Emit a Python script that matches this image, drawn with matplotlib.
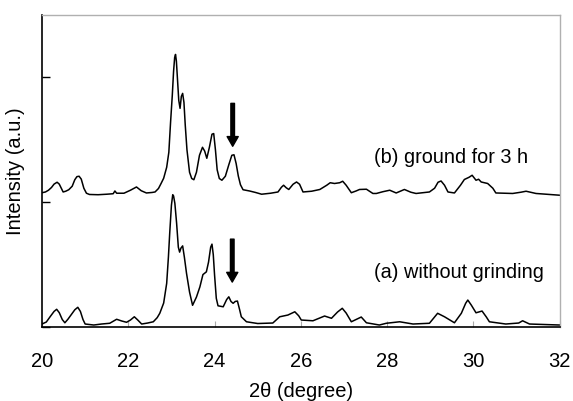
import matplotlib
matplotlib.use("Agg")
import matplotlib.pyplot as plt

plt.rcParams['font.family'] = ['Liberation Sans', 'DejaVu Sans']

# 2-theta (degree) and intensity (a.u.) for sample (b) ground for 3 h
two_theta_b = [20.00, 20.08, 20.15, 20.22, 20.28, 20.35, 20.40, 20.45, 20.49, 20.55,
               20.62, 20.70, 20.76, 20.81, 20.86, 20.91, 20.97, 21.03, 21.10, 21.30,
               21.50, 21.65, 21.69, 21.73, 21.90, 22.05, 22.19, 22.30, 22.42, 22.55,
               22.62, 22.70, 22.76, 22.82, 22.89, 22.94, 22.98, 23.02, 23.05, 23.075,
               23.095, 23.115, 23.14, 23.17, 23.20, 23.23, 23.26, 23.29, 23.32, 23.36,
               23.42, 23.47, 23.52, 23.58, 23.65, 23.72, 23.77, 23.82, 23.88, 23.94,
               23.98, 24.02, 24.06, 24.11, 24.17, 24.25, 24.33, 24.40, 24.45, 24.50,
               24.55, 24.60, 24.66, 24.81, 24.95, 25.09, 25.30, 25.47, 25.55, 25.60,
               25.66, 25.72, 25.82, 25.90, 25.97, 26.05, 26.25, 26.44, 26.60, 26.68,
               26.78, 26.90, 26.97, 27.05, 27.17, 27.28, 27.36, 27.52, 27.67, 27.75,
               27.90, 28.06, 28.21, 28.40, 28.55, 28.67, 28.98, 29.10, 29.18, 29.25,
               29.33, 29.41, 29.56, 29.70, 29.79, 29.90, 29.97, 30.06, 30.12, 30.18,
               30.33, 30.45, 30.52, 30.91, 31.10, 31.22, 31.45, 31.70, 32.00]
intensity_b = [1076, 1082, 1096, 1118, 1145, 1160, 1145, 1110, 1082, 1088,
               1100, 1128, 1180, 1205, 1208, 1185, 1112, 1072, 1062, 1060,
               1064, 1068, 1090, 1072, 1072, 1096, 1122, 1092, 1074, 1078,
               1082, 1110, 1150, 1192, 1280, 1400, 1640, 1856, 2050, 2160,
               2184, 2130, 1990, 1816, 1752, 1848, 1872, 1800, 1620, 1420,
               1240, 1190, 1180, 1240, 1376, 1440, 1410, 1352, 1440, 1545,
               1550, 1420, 1260, 1190, 1176, 1208, 1300, 1376, 1380, 1310,
               1210, 1140, 1100, 1090, 1078, 1064, 1072, 1082, 1120, 1136,
               1116, 1102, 1144, 1162, 1144, 1082, 1088, 1102, 1136, 1156,
               1150, 1156, 1168, 1136, 1076, 1090, 1102, 1104, 1070, 1070,
               1084, 1096, 1074, 1102, 1080, 1070, 1082, 1112, 1160, 1170,
               1136, 1082, 1074, 1136, 1182, 1200, 1216, 1176, 1184, 1162,
               1150, 1112, 1074, 1070, 1080, 1088, 1070, 1064, 1056]

# 2-theta (degree) and intensity (a.u.) for sample (a) without grinding
two_theta_a = [20.00, 20.10, 20.20, 20.28, 20.34, 20.40, 20.47, 20.53, 20.60, 20.68,
               20.76, 20.83, 20.89, 20.95, 21.00, 21.20, 21.38, 21.57, 21.73, 21.85,
               21.96, 22.05, 22.14, 22.22, 22.31, 22.45, 22.58, 22.67, 22.73, 22.82,
               22.89, 22.93, 22.96, 23.00, 23.03, 23.05, 23.08, 23.12, 23.16, 23.19,
               23.22, 23.26, 23.30, 23.35, 23.42, 23.49, 23.58, 23.66, 23.73, 23.81,
               23.86, 23.91, 23.94, 23.97, 24.00, 24.04, 24.08, 24.20, 24.28, 24.33,
               24.38, 24.43, 24.48, 24.53, 24.58, 24.62, 24.74, 25.00, 25.35, 25.51,
               25.70, 25.86, 25.95, 26.01, 26.28, 26.55, 26.71, 26.85, 26.96, 27.05,
               27.17, 27.40, 27.52, 27.82, 27.98, 28.29, 28.60, 28.98, 29.08, 29.17,
               29.33, 29.56, 29.72, 29.82, 29.87, 29.95, 30.06, 30.20, 30.30, 30.37,
               30.75, 31.05, 31.14, 31.30, 32.00]
intensity_a = [24, 40, 88, 125, 142, 115, 60, 34, 62, 100,
               138, 158, 125, 60, 24, 16, 24, 30, 62, 48,
               38, 56, 82, 56, 24, 32, 42, 75, 110, 192,
               350, 560, 750, 976, 1060, 1050, 990, 832, 640, 600,
               632, 650, 560, 430, 280, 174, 240, 322, 420, 442,
               520, 640, 664, 580, 416, 230, 170, 162, 220, 242,
               205, 190, 205, 208, 140, 82, 42, 28, 32, 82,
               96, 122, 90, 56, 50, 88, 70, 120, 150, 112,
               42, 80, 34, 16, 30, 42, 24, 30, 72, 110,
               82, 34, 110, 190, 216, 176, 114, 128, 80, 42,
               24, 32, 50, 24, 16]

label_b = "(b) ground for 3 h"
label_a = "(a) without grinding"
arrow_pos = [24.42, 24.41]          # 2-theta of marked peak
arrow_tail = [1792, 704]
arrow_head = [1448, 360]
x_ticks = [20, 22, 24, 26, 28, 30, 32]
y_ticks = [0, 1000, 2000]

fig = plt.figure(figsize=(5.73, 4.01), dpi=100)
ax = fig.add_axes([0.0733, 0.1845, 0.9035, 0.7781])

ax.plot(two_theta_b, intensity_b, color='black', lw=1.1)
ax.plot(two_theta_a, intensity_a, color='black', lw=1.1)

ax.set_xlim(20, 32)
ax.set_ylim(0, 2500)
ax.set_xticks(x_ticks)
ax.set_yticks(y_ticks)
ax.set_yticklabels([])

ax.tick_params(axis='x', direction='in', length=4, color='#aaaaaa', pad=18, labelsize=14.5)
ax.tick_params(axis='y', direction='in', length=6, color='black', width=1)

for s in ['top', 'right']:
    ax.spines[s].set_color('#b0b0b0')
    ax.spines[s].set_linewidth(1)
for s in ['left', 'bottom']:
    ax.spines[s].set_color('black')
    ax.spines[s].set_linewidth(1.2)

ax.set_xlabel("2θ (degree)", fontsize=14.5, labelpad=8)
ax.set_ylabel("Intensity (a.u.)", fontsize=14.5, labelpad=9)

ax.text(27.7, 1360, label_b, fontsize=14.3, va='center', ha='left')
ax.text(27.7, 440, label_a, fontsize=14.3, va='center', ha='left')

for xp, yt, yh in zip(arrow_pos, arrow_tail, arrow_head):
    ax.annotate("", xy=(xp, yh), xytext=(xp, yt),
                arrowprops=dict(facecolor='black', edgecolor='black',
                                width=2.6, headwidth=8, headlength=7, shrink=0))

fig.savefig("out.png", dpi=100)
